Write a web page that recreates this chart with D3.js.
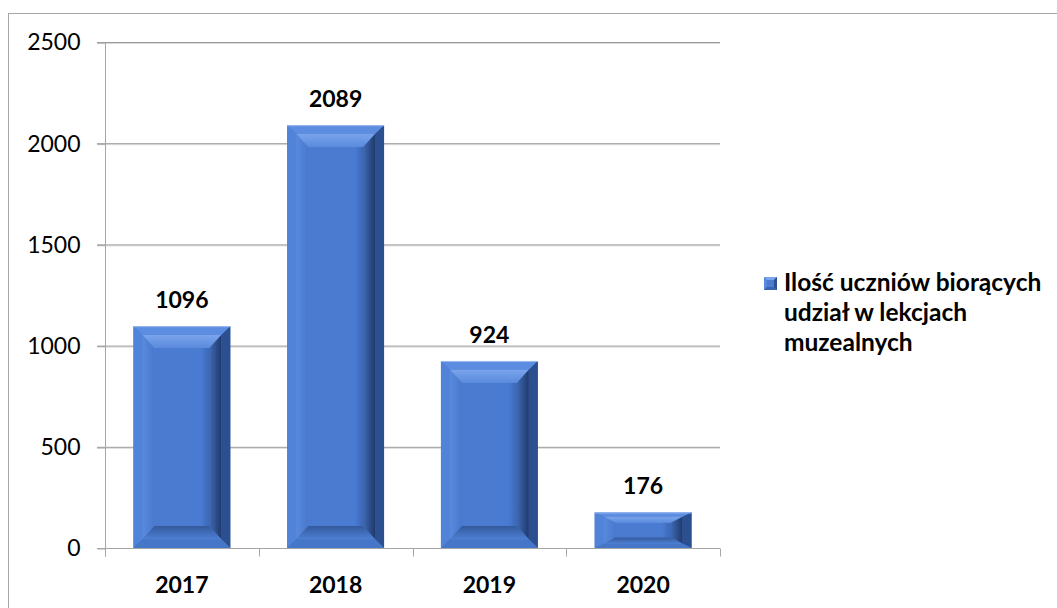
<!DOCTYPE html>
<html><head><meta charset="utf-8">
<script src="https://cdn.jsdelivr.net/npm/d3@7"></script>
<style>body{margin:0;background:#fff}svg{display:block}</style>
</head><body>
<script>
const categories = ["2017", "2018", "2019", "2020"];
const values = [1096, 2089, 924, 176];
const yTicks = [0, 500, 1000, 1500, 2000, 2500];
const seriesName = ["Ilość uczniów biorących", "udział w lekcjach", "muzealnych"];

const W = 1057, H = 608;
const svg = d3.select("body").append("svg").attr("width", W).attr("height", H);
const font = "Lato, 'Open Sans', sans-serif";

svg.append("rect").attr("x", 8.5).attr("y", 13.5).attr("width", 1060).attr("height", 620)
  .attr("fill", "none").attr("stroke", "#a6a6a6").attr("stroke-width", 1);

const m = {l: 105, r: 720, t: 42, b: 548};
const x = d3.scaleBand().domain(categories).range([m.l, m.r]).paddingInner(0.37).paddingOuter(0.185);
const y = d3.scaleLinear().domain([0, 2500]).range([m.b, m.t]);

// gridlines
const g = svg.append("g");
yTicks.forEach(t => {
  if (t === 0) return;
  g.append("line").attr("x1", m.l - 8).attr("x2", m.r).attr("y1", y(t) + 1.5).attr("y2", y(t) + 1.5)
    .attr("stroke", "#d9d9d9").attr("stroke-width", 1);
  g.append("line").attr("x1", m.l - 8).attr("x2", m.r).attr("y1", y(t) + 0.5).attr("y2", y(t) + 0.5)
    .attr("stroke", "#9a9a9a").attr("stroke-width", 1);
});

// y axis
const yAxis = d3.axisLeft(y).tickValues(yTicks).tickSize(8).tickPadding(17).tickFormat(d3.format("d"));
const ya = svg.append("g").attr("transform", `translate(${m.l + 0.5},0.5)`).call(yAxis);
ya.select(".domain").attr("stroke", "#a6a6a6").attr("d", `M0,${m.t}V${m.b + 8}`);
ya.selectAll(".tick line").attr("stroke", "#a6a6a6");
ya.selectAll(".tick text").attr("font-family", font).attr("font-size", 23).attr("fill", "#000");

// x axis
const xa = svg.append("g").attr("transform", `translate(0,${m.b + 0.5})`);
xa.append("line").attr("x1", m.l - 8).attr("x2", m.r).attr("stroke", "#a6a6a6");
const bounds = [m.l].concat(categories.map((c, i) => m.l + (m.r - m.l) / categories.length * (i + 1)));
bounds.forEach(b => xa.append("line").attr("x1", Math.round(b) + 0.5).attr("x2", Math.round(b) + 0.5)
  .attr("y1", 0).attr("y2", 8).attr("stroke", "#a6a6a6"));
categories.forEach(c => xa.append("text").attr("x", x(c) + x.bandwidth() / 2).attr("y", 44)
  .attr("text-anchor", "middle").attr("font-family", font).attr("font-weight", "bold")
  .attr("font-size", 23).text(c));

// bars with bevel
const defs = svg.append("defs");
const gt = defs.append("linearGradient").attr("id", "gtop").attr("x1", 0).attr("y1", 0).attr("x2", 0).attr("y2", 1);
gt.append("stop").attr("offset", 0).attr("stop-color", "#7aa4ec");
gt.append("stop").attr("offset", 1).attr("stop-color", "#5a8adc");
const gr = defs.append("linearGradient").attr("id", "gright").attr("x1", 0).attr("y1", 0).attr("x2", 1).attr("y2", 0);
gr.append("stop").attr("offset", 0).attr("stop-color", "#3f69b3");
gr.append("stop").attr("offset", 1).attr("stop-color", "#1f3a6e");
const gl = defs.append("linearGradient").attr("id", "gleft").attr("x1", 0).attr("y1", 0).attr("x2", 1).attr("y2", 0);
gl.append("stop").attr("offset", 0).attr("stop-color", "#5a8ade");
gl.append("stop").attr("offset", 1).attr("stop-color", "#4878cc");
const gb = defs.append("linearGradient").attr("id", "gbot").attr("x1", 0).attr("y1", 0).attr("x2", 0).attr("y2", 1);
gb.append("stop").attr("offset", 0).attr("stop-color", "#34599c");
gb.append("stop").attr("offset", 1).attr("stop-color", "#4d7fd4");
const gf = defs.append("linearGradient").attr("id", "gface").attr("x1", 0).attr("y1", 0).attr("x2", 1).attr("y2", 0);
gf.append("stop").attr("offset", 0).attr("stop-color", "#4a7bd0");
gf.append("stop").attr("offset", 0.85).attr("stop-color", "#4a7bd2");
gf.append("stop").attr("offset", 1).attr("stop-color", "#3b66b4");

function bevel(gp, x0, y0, x1, y1, dx, dy, cols) {
  const P = (pts, f) => gp.append("polygon").attr("points", pts.map(p => p.join(",")).join(" ")).attr("fill", f);
  P([[x0, y0], [x1, y0], [x1 - dx, y0 + dy], [x0 + dx, y0 + dy]], cols.top);
  P([[x0, y0], [x0 + dx, y0 + dy], [x0 + dx, y1 - dy], [x0, y1]], cols.left);
  P([[x1, y0], [x1, y1], [x1 - dx, y1 - dy], [x1 - dx, y0 + dy]], cols.right);
  P([[x0, y1], [x0 + dx, y1 - dy], [x1 - dx, y1 - dy], [x1, y1]], cols.bottom);
}

const bars = svg.append("g");
categories.forEach((c, i) => {
  const v = values[i];
  const x0 = x(c), x1 = x(c) + x.bandwidth();
  const y0 = y(v), y1 = y(0);
  const h = y1 - y0;
  const gp = bars.append("g");
  const lipX = 9, bevX = 12;
  const tv = Math.min(22, h * 0.3);
  const lipY = tv * 0.4, bevY = tv * 0.6;
  gp.append("rect").attr("x", x0).attr("y", y0).attr("width", x1 - x0).attr("height", h).attr("fill", "#4a7bd0");
  bevel(gp, x0, y0, x1, y1, lipX, lipY, {top: "#5d8de0", left: "#5183d8", right: "#2c4f90", bottom: "#4576c8"});
  const ix0 = x0 + lipX, ix1 = x1 - lipX, iy0 = y0 + lipY, iy1 = y1 - lipY;
  bevel(gp, ix0, iy0, ix1, iy1, bevX, bevY, {top: "url(#gtop)", left: "url(#gleft)", right: "url(#gright)", bottom: "url(#gbot)"});
  gp.append("rect").attr("x", ix0 + bevX).attr("y", iy0 + bevY).attr("width", ix1 - ix0 - 2 * bevX)
    .attr("height", Math.max(0, iy1 - iy0 - 2 * bevY)).attr("fill", "url(#gface)");
  gp.append("line").attr("x1", x0).attr("x2", x1).attr("y1", y0 + 0.5).attr("y2", y0 + 0.5)
    .attr("stroke", "#9dbcf2").attr("stroke-width", 1);
  svg.append("text").attr("x", (x0 + x1) / 2).attr("y", y0 - 18).attr("text-anchor", "middle")
    .attr("font-family", font).attr("font-weight", "bold").attr("font-size", 23).text(v);
});

// legend
const lg = svg.append("g");
lg.append("rect").attr("x", 764).attr("y", 277).attr("width", 13).attr("height", 13).attr("fill", "#4a7bd0");
bevel(lg, 764, 277, 777, 290, 3, 3, {top: "#7aa4ec", left: "#5a8ade", right: "#2c4f90", bottom: "#3a63ad"});
seriesName.forEach((s, i) => lg.append("text").attr("x", 784).attr("y", 291 + i * 30)
  .attr("font-family", font).attr("font-weight", "bold").attr("font-size", 24.5).text(s));
</script>
</body></html>
